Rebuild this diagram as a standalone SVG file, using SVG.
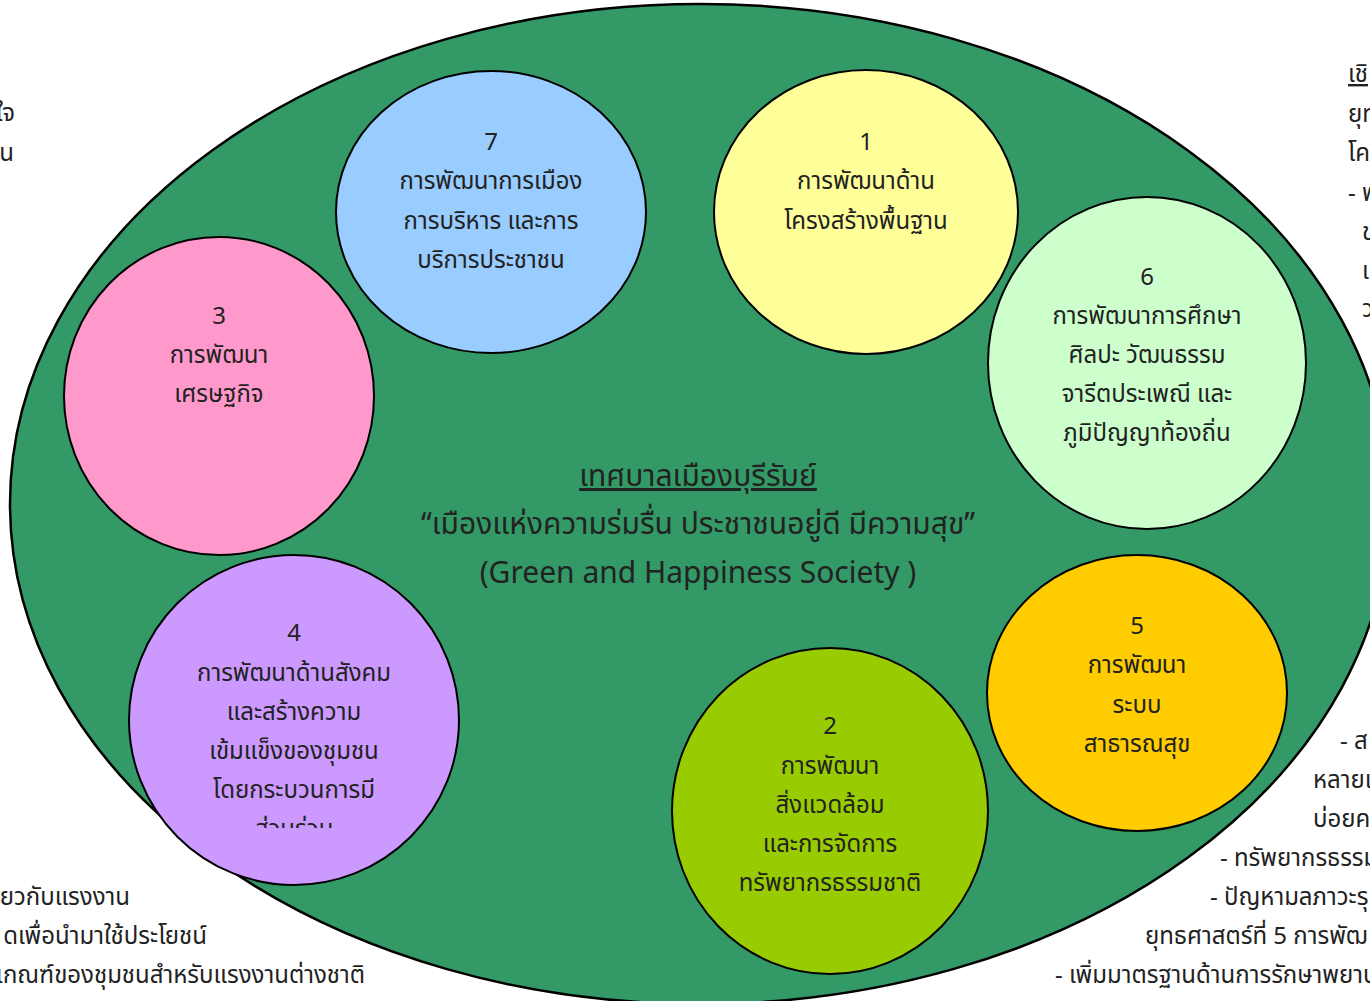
<svg xmlns="http://www.w3.org/2000/svg" width="1370" height="1001" viewBox="0 0 1370 1001">
<style>
text{font-family:"Noto Sans Thai","Leelawadee UI","Tahoma","Noto Sans","DejaVu Sans",sans-serif;font-size:24px;fill:#222}
.c{text-anchor:middle}
.e{text-anchor:end}
.big{font-size:30px}
.node{stroke:#000;stroke-width:2}
</style>
<defs>
<clipPath id="clip4"><rect x="130" y="560" width="330" height="268"/></clipPath>
</defs>
<rect width="1370" height="1001" fill="#fff"/>
<g id="outside-text">
<text class="e" x="15" y="121">ใจ</text>
<text class="e" x="14" y="161">ใน</text>
<text x="1348" y="82" text-decoration="underline">เชิ</text>
<text x="1348" y="122">ยุท</text>
<text x="1348" y="161">โค</text>
<text x="1348" y="201">- พ</text>
<text x="1362" y="240">ข</text>
<text x="1362" y="279">เ</text>
<text x="1362" y="317">ว</text>
<text x="1340" y="749">- ส</text>
<text x="1313" y="788">หลายเ</text>
<text x="1313" y="827">บ่อยค</text>
<text x="1220" y="866">- ทรัพยากรธรรม</text>
<text x="1210" y="905">- ปัญหามลภาวะรุ</text>
<text x="1145" y="944">ยุทธศาสตร์ที่ 5 การพัฒ</text>
<text x="1055" y="983">- เพิ่มมาตรฐานด้านการรักษาพยาบ</text>
<text class="e" x="130" y="905">เกี่ยวกับแรงงาน</text>
<text class="e" x="207" y="944">ดเพื่อนำมาใช้ประโยชน์</text>
<text class="e" x="365" y="983">กเกณฑ์ของชุมชนสำหรับแรงงานต่างชาติ</text>
</g>
<g id="main">
<ellipse cx="700" cy="504" rx="690" ry="500" fill="#339966" stroke="#000" stroke-width="2.5"/>
<text class="c big" x="698" y="486" text-decoration="underline">เทศบาลเมืองบุรีรัมย์</text>
<text class="c big" x="698" y="534">“เมืองแห่งความร่มรื่น ประชาชนอยู่ดี มีความสุข”</text>
<text class="c big" x="698" y="583">(Green and Happiness Society )</text>
</g>
<g id="connectors"></g>
<g id="node7">
<ellipse class="node" cx="491" cy="212" rx="155" ry="141" fill="#99CCFF"/>
<text class="c" x="491" y="150">7</text>
<text class="c" x="491" y="189">การพัฒนาการเมือง</text>
<text class="c" x="491" y="229">การบริหาร และการ</text>
<text class="c" x="491" y="268">บริการประชาชน</text>
</g>
<g id="node1">
<ellipse class="node" cx="866" cy="212" rx="152" ry="142" fill="#FFFF99"/>
<text class="c" x="866" y="150">1</text>
<text class="c" x="866" y="189">การพัฒนาด้าน</text>
<text class="c" x="866" y="229">โครงสร้างพื้นฐาน</text>
</g>
<g id="node3">
<ellipse class="node" cx="219" cy="396" rx="155" ry="159" fill="#FF99CC"/>
<text class="c" x="219" y="324">3</text>
<text class="c" x="219" y="363">การพัฒนา</text>
<text class="c" x="219" y="402">เศรษฐกิจ</text>
</g>
<g id="node6">
<ellipse class="node" cx="1147" cy="363" rx="159" ry="166" fill="#CCFFCC"/>
<text class="c" x="1147" y="285">6</text>
<text class="c" x="1147" y="324">การพัฒนาการศึกษา</text>
<text class="c" x="1147" y="363">ศิลปะ วัฒนธรรม</text>
<text class="c" x="1147" y="402">จารีตประเพณี และ</text>
<text class="c" x="1147" y="441">ภูมิปัญญาท้องถิ่น</text>
</g>
<g id="node4">
<ellipse class="node" cx="294" cy="720" rx="165" ry="165" fill="#CC99FF"/>
<text class="c" x="294" y="641">4</text>
<text class="c" x="294" y="681">การพัฒนาด้านสังคม</text>
<text class="c" x="294" y="720">และสร้างความ</text>
<text class="c" x="294" y="759">เข้มแข็งของชุมชน</text>
<text class="c" x="294" y="798">โดยกระบวนการมี</text>
<text class="c" x="294" y="837" clip-path="url(#clip4)">ส่วนร่วม</text>
</g>
<g id="node2">
<ellipse class="node" cx="830" cy="811" rx="158" ry="163" fill="#99CC00"/>
<text class="c" x="830" y="734">2</text>
<text class="c" x="830" y="774">การพัฒนา</text>
<text class="c" x="830" y="813">สิ่งแวดล้อม</text>
<text class="c" x="830" y="852">และการจัดการ</text>
<text class="c" x="830" y="891">ทรัพยากรธรรมชาติ</text>
</g>
<g id="node5">
<ellipse class="node" cx="1137" cy="693" rx="150" ry="138" fill="#FFCC00"/>
<text class="c" x="1137" y="634">5</text>
<text class="c" x="1137" y="673">การพัฒนา</text>
<text class="c" x="1137" y="713">ระบบ</text>
<text class="c" x="1137" y="752">สาธารณสุข</text>
</g>
</svg>
